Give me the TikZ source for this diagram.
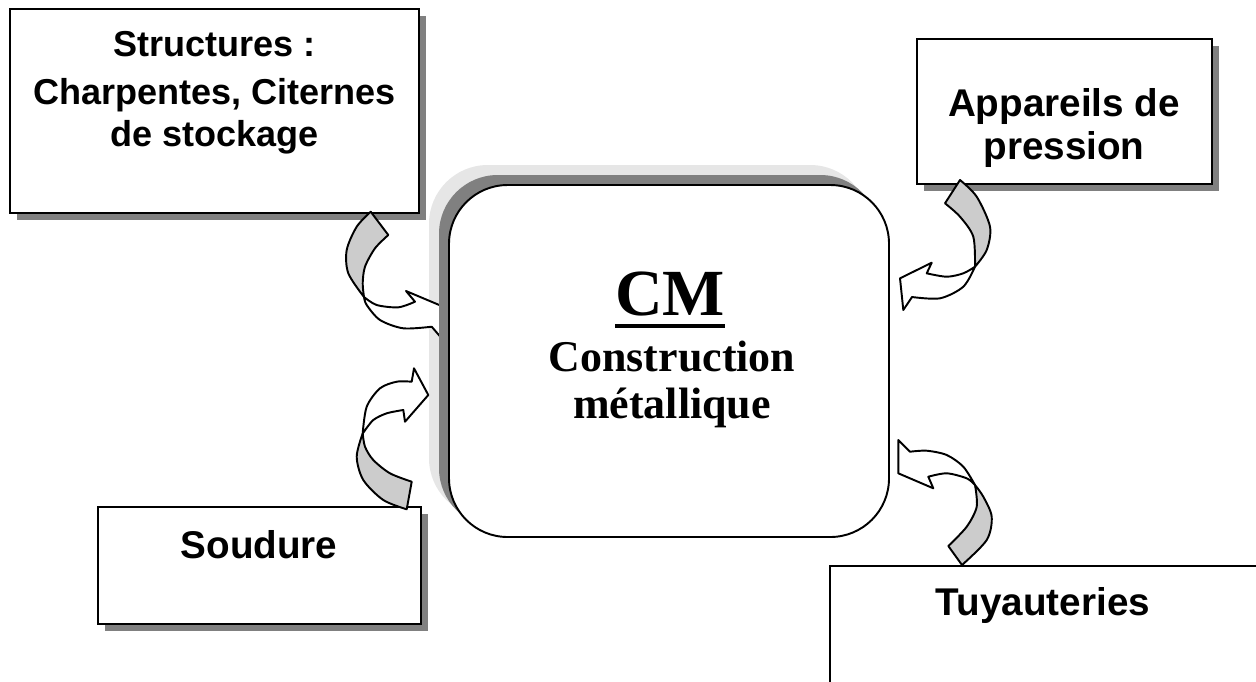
\documentclass[tikz,border=0pt]{standalone}
\usepackage{fontspec}
\setmainfont{Liberation Serif}
\setsansfont{Liberation Sans}
\usetikzlibrary{shadows}

\definecolor{shadowgray}{HTML}{808080}
\definecolor{paleshadow}{HTML}{E6E6E6}
\definecolor{bendgray}{HTML}{CCCCCC}

\newsavebox{\ulbox}
\newcommand{\thickul}[1]{\sbox{\ulbox}{#1}\rlap{\rule[-7.4pt]{\wd\ulbox}{2.3pt}}\usebox{\ulbox}}

\tikzset{
  box/.style={draw=black, line width=1.1pt, fill=white,
    drop shadow={shadow xshift=4pt, shadow yshift=-4pt, fill=shadowgray, opacity=1}},
  boxtext/.style={font=\sffamily\bfseries\fontsize{22}{24.5}\selectfont, align=center, inner sep=0pt},
  twistback/.style={draw=black, line width=1.1pt, fill=bendgray, line join=round},
  twisthead/.style={draw=black, line width=1.1pt, fill=white, line join=round},
}

\begin{document}
\begin{tikzpicture}[x=0.02cm, y=-0.02cm]
\useasboundingbox (0,0) rectangle (1256,681);
\clip (0,0) rectangle (1256,681);

% outer boxes
\draw[box] (10,9) rectangle (419,213);
\draw[box] (917,39) rectangle (1212,184);
\draw[box] (98,507) rectangle (421,624);
\draw[box] (830,566) rectangle (1262,700);

% pale shadow of the centre box
\fill[paleshadow, rounded corners=33.4pt] (429,165) rectangle (869,517);

% curved arrows: twisted back in gray, front with head in white
\draw[twistback] (370.7,211.7) -- (388.3,235)
  -- plot[smooth] coordinates {(388.3,235) (375,248.3) (365,266.7) (362.7,283.3) (364,297)}
  -- plot[smooth] coordinates {(364,297) (348.3,273.3) (346.7,250) (356.7,226.7) (370.7,211.7)} -- cycle;
\draw[twisthead] plot[smooth] coordinates {(364,297) (376.7,305) (398.3,307.3) (415,301.7)}
  -- (406,291) -- (444,307) -- (444,341) -- (431.7,326.7)
  -- plot[smooth] coordinates {(431.7,326.7) (403.3,328.3) (380,320) (366.7,305) (364,297)} -- cycle;

\draw[twistback] (406.7,509.3) -- (411.7,481.7)
  -- plot[smooth] coordinates {(411.7,481.7) (390,473.3) (373.3,460) (365,446.7) (362.7,433.3)}
  -- plot[smooth] coordinates {(362.7,433.3) (356.7,456.7) (363.3,480) (383.3,500) (406.7,509.3)} -- cycle;
\draw[twisthead] plot[smooth] coordinates {(362.7,433.3) (366.7,406.7) (380,388.3) (396.7,381.7) (411.7,381.7)}
  -- (414,368.3) -- (428.3,395) -- (405,421.7) -- (403.3,410)
  -- plot[smooth] coordinates {(403.3,410) (386.7,413.3) (373.3,420) (364,431.7)} -- cycle;

\draw[twistback] (945,203.3) -- (960,180)
  -- plot[smooth] coordinates {(960,180) (976.7,196.7) (990,226.7) (986.7,250) (975,266.7)}
  -- plot[smooth] coordinates {(975,266.7) (973.3,236.7) (960,216.7) (945,203.3)} -- cycle;
\draw[twisthead] plot[smooth] coordinates {(975,266.7) (963.3,286.7) (940,298.3) (912,297)}
  -- (903.3,310) -- (900,278.3) -- (931.7,262.7) -- (926.7,273.3)
  -- plot[smooth] coordinates {(926.7,273.3) (946.7,276.7) (963.3,273.3) (975,266.7)} -- cycle;

\draw[twistback] (948.3,546) -- (962,565)
  -- plot[smooth] coordinates {(962,565) (986.7,540) (991.7,516.7) (983.3,496.7) (975,485)}
  -- plot[smooth] coordinates {(975,485) (976.7,506.7) (966.7,526.7) (948.3,546)} -- cycle;
\draw[twisthead] plot[smooth] coordinates {(975,485) (963.3,466.7) (946.7,455) (926.7,450.7) (910,451.7)}
  -- (898.3,440) -- (898.3,473.3) -- (933.3,488.3) -- (928.3,476.7)
  -- plot[smooth] coordinates {(928.3,476.7) (946.7,473.3) (966.7,478.3) (975,485)} -- cycle;

% centre box
\fill[shadowgray, rounded corners=33.4pt] (439,175) rectangle (879,527);
\draw[line width=1.1pt, fill=white, rounded corners=33.4pt] (449,185) rectangle (889,537);

% texts
\node[boxtext, font=\sffamily\bfseries\fontsize{20.5}{24}\selectfont] (structures) at (214.5,93)
  {Structures :\\[3pt]Charpentes, Citernes\\de stockage};
\node[boxtext] (appareils) at (1064,128) {Appareils de\\pression};
\node[boxtext, anchor=base] (soudure) at (259,558) {Soudure};
\node[boxtext, anchor=base] (tuyauteries) at (1043,615) {Tuyauteries};
\node[font=\bfseries\fontsize{37.5}{40}\selectfont, inner sep=0pt, anchor=base] (cm) at (670,315) {\thickul{CM}};
\node[font=\bfseries\fontsize{25}{26.5}\selectfont, align=center, inner sep=0pt] (cmname) at (672,384.5)
  {Construction\\métallique};
\end{tikzpicture}
\end{document}
